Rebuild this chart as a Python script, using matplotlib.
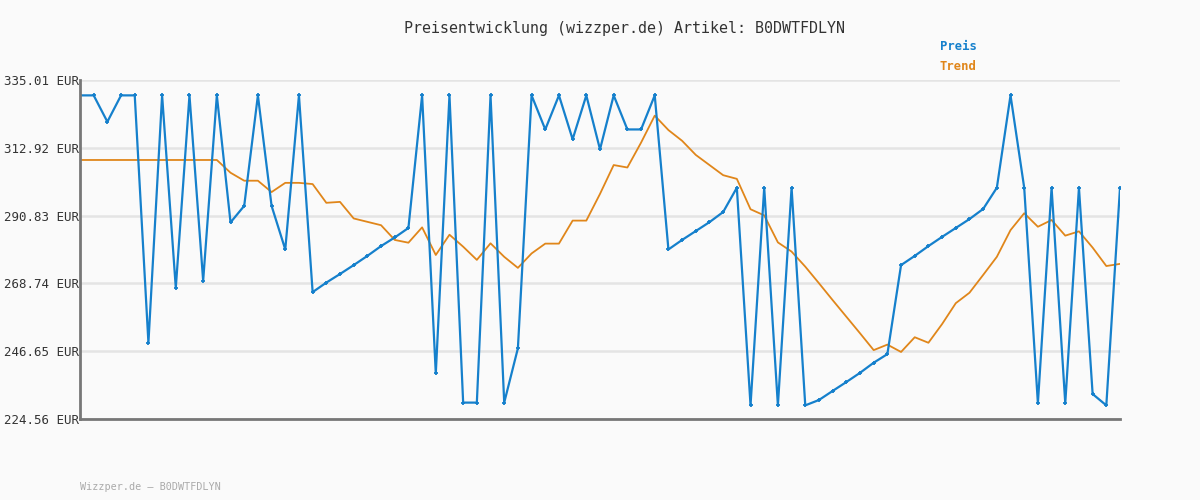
import matplotlib
matplotlib.use("Agg")
import matplotlib.pyplot as plt
import numpy as np

title = "Preisentwicklung (wizzper.de) Artikel: B0DWTFDLYN"
footer = "Wizzper.de – B0DWTFDLYN"
y_ticks = [224.56, 246.65, 268.74, 290.83, 312.92, 335.01]
y_tick_labels = ["224.56 EUR", "246.65 EUR", "268.74 EUR", "290.83 EUR", "312.92 EUR", "335.01 EUR"]

preis = [
    330.0, 330.0, 321.4, 330.0, 330.0, 249.4, 330.0, 267.3, 330.0, 269.6,
    330.0, 288.6, 294.0, 330.0, 294.0, 279.8, 330.0, 265.9, 269.0, 271.8,
    274.7, 277.7, 280.9, 283.7, 286.8, 330.0, 239.4, 330.0, 229.9, 229.9,
    330.0, 229.9, 247.6, 330.0, 318.9, 330.0, 315.7, 330.0, 312.4, 330.0,
    318.9, 318.9, 330.0, 279.8, 282.9, 285.8, 288.7, 292.0, 299.9, 229.0,
    299.9, 229.0, 299.9, 229.0, 230.75, 233.7, 236.6, 239.6, 242.9, 245.7,
    274.7, 277.7, 280.9, 283.9, 286.8, 289.7, 293.0, 299.9, 330.0, 299.9,
    229.7, 299.9, 229.7, 299.9, 232.7, 229.0, 299.9,
]
trend = [
    308.95, 308.95, 308.95, 308.95, 308.95, 308.95, 308.95, 308.95, 308.95, 308.95,
    308.95, 304.8, 302.2, 302.2, 298.5, 301.5, 301.5, 301.1, 295.0, 295.3,
    289.9, 288.8, 287.7, 282.9, 282.0, 287.0, 278.0, 284.6, 280.7, 276.4,
    281.8, 277.4, 273.8, 278.5, 281.7, 281.7, 289.2, 289.2, 297.9, 307.3,
    306.5, 314.6, 323.4, 318.7, 315.2, 310.6, 307.3, 304.0, 302.8, 292.9,
    290.9, 282.1, 279.1, 274.2, 268.8, 263.3, 257.9, 252.5, 247.0, 248.8,
    246.4, 251.2, 249.4, 255.5, 262.3, 265.7, 271.5, 277.4, 286.1, 291.6,
    287.2, 289.4, 284.3, 285.7, 280.4, 274.4, 275.1,
]

blue = "#1580cc"
orange = "#e0861a"
bg = "#fafafa"
mono = ["DejaVu Sans Mono"]

fig = plt.figure(figsize=(12, 5), dpi=100, facecolor=bg)
ax = fig.add_axes([80 / 1200, 81 / 500, 1040 / 1200, 339 / 500])
ax.set_facecolor(bg)

x = np.arange(len(preis))
ax.plot(x, trend, color=orange, lw=1.3, zorder=3)
ax.plot(x, preis, color=blue, lw=1.6, marker="+", ms=3.5, mew=1.3, zorder=4)

ax.set_xlim(0, len(preis) - 1)
ax.set_ylim(y_ticks[0], y_ticks[-1])
ax.set_yticks(y_ticks)
ax.set_yticklabels(y_tick_labels, fontfamily=mono, fontsize=9, color="#333333")
ax.set_xticks([])
ax.tick_params(axis="y", length=0, pad=1)
ax.grid(axis="y", color="#e4e4e4", lw=1.8, zorder=0)
ax.set_axisbelow(True)
for s in ["top", "right"]:
    ax.spines[s].set_visible(False)
for s in ["left", "bottom"]:
    ax.spines[s].set_color("#777777")
    ax.spines[s].set_linewidth(2)
ax.spines["left"].set_zorder(5)

fig.text(624 / 1200, 1 - 28 / 500, title, ha="center", va="center",
         fontfamily=mono, fontsize=10.8, color="#333333")
fig.text(940 / 1200, 1 - 47 / 500, "Preis", ha="left", va="center",
         fontfamily=mono, fontsize=8.8, color=blue, fontweight="bold")
fig.text(940 / 1200, 1 - 67 / 500, "Trend", ha="left", va="center",
         fontfamily=mono, fontsize=8.8, color=orange, fontweight="bold")
fig.text(80 / 1200, 1 - 487 / 500, footer, ha="left", va="center",
         fontfamily=mono, fontsize=7.3, color="#aaaaaa")

fig.savefig("out.png", dpi=100, facecolor=bg)
